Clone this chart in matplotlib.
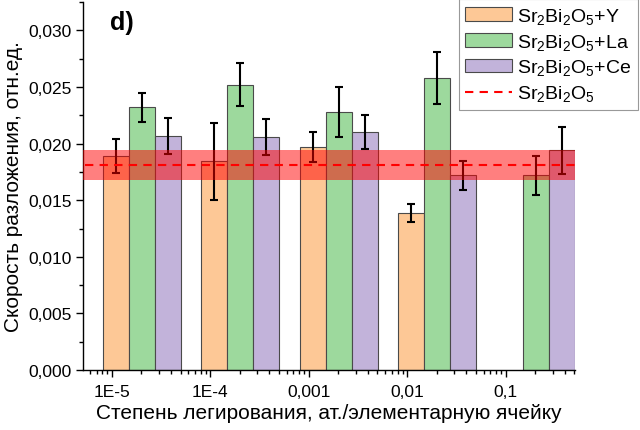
import numpy as np
import matplotlib
matplotlib.use("Agg")
import matplotlib.pyplot as plt
from matplotlib.ticker import FixedLocator, MultipleLocator, FuncFormatter

# Данные
doping = [1e-5, 1e-4, 1e-3, 1e-2, 1e-1]
doping_labels = ['1E-5', '1E-4', '0,001', '0,01', '0,1']

y_vals = [0.0189, 0.01845, 0.0197, 0.0139, np.nan]
y_err = [0.0015, 0.0034, 0.0013, 0.0008, np.nan]
la_vals = [0.0232, 0.0252, 0.0228, 0.0258, 0.0172]
la_err = [0.0013, 0.0019, 0.0022, 0.0023, 0.0017]
ce_vals = [0.0207, 0.0206, 0.0210, 0.0172, 0.0194]
ce_err = [0.0016, 0.0016, 0.0015, 0.0013, 0.0021]

base_val = 0.0181
base_err = 0.00135

plt.rcParams['font.family'] = ['Liberation Sans', 'DejaVu Sans']
plt.rcParams['mathtext.default'] = 'regular'

fig = plt.figure(figsize=(6.4, 4.31), dpi=100)
ax = fig.add_axes([0.130, 0.139, 0.768, 0.854])

x = np.log10(doping)
w = 0.264
off = -0.09
series = [
    (y_vals, y_err, '#FDC896', r'Sr$_2$Bi$_2$O$_5$+Y'),
    (la_vals, la_err, '#9DD99D', r'Sr$_2$Bi$_2$O$_5$+La'),
    (ce_vals, ce_err, '#C2B3DA', r'Sr$_2$Bi$_2$O$_5$+Ce'),
]
handles = []
for i, (vals, errs, col, lab) in enumerate(series):
    pos = x + off + w * (i + 0.5)
    b = ax.bar(pos, vals, width=w, color=col, edgecolor='#4a4a4a', linewidth=0.8,
               label=lab, zorder=1)
    ax.errorbar(pos, vals, yerr=errs, fmt='none', ecolor='black', elinewidth=1.5,
                capsize=3, capthick=1.5, zorder=2)
    handles.append(b)

x0 = -5.29
x1 = x[-1] + off + 3 * w
ax.axhspan(base_val - base_err, base_val + base_err, xmin=0, xmax=1,
           color='#ff0000', alpha=0.5, linewidth=0, zorder=3)
line, = ax.plot([x0 + 0.02, x1], [base_val, base_val], color='red', linestyle='--',
                dashes=(4, 3), linewidth=1.5, zorder=4, label=r'Sr$_2$Bi$_2$O$_5$')
handles.append(line)

ax.set_xlim(x0, x1)
ax.set_ylim(0, 0.0325)

ax.xaxis.set_major_locator(FixedLocator(x))
ax.set_xticklabels(doping_labels)
minor = [np.log10(k * 10.0 ** n) for n in range(-6, 0) for k in range(2, 10)]
minor = [m for m in minor if x0 <= m <= x1]
ax.xaxis.set_minor_locator(FixedLocator(minor))

ax.yaxis.set_major_locator(MultipleLocator(0.005))
ax.yaxis.set_minor_locator(MultipleLocator(0.0025))
ax.yaxis.set_major_formatter(FuncFormatter(lambda v, p: f'{v:.3f}'.replace('.', ',')))

for s in ['top', 'right']:
    ax.spines[s].set_visible(False)
for s in ['left', 'bottom']:
    ax.spines[s].set_linewidth(1.0)

ax.tick_params(axis='both', which='major', direction='out', length=5, width=1,
               labelsize=12.5, colors='black')
ax.tick_params(axis='both', which='minor', direction='out', length=3, width=1)
ax.tick_params(axis='x', which='major', pad=5)
ax.tick_params(axis='y', which='major', pad=3)

ax.set_xlabel('Степень легирования, ат./элементарную ячейку', fontsize=15, labelpad=3)
ax.set_ylabel('Скорость разложения, отн.ед.', fontsize=15, labelpad=4)

ax.text(0.055, 0.945, 'd)', transform=ax.transAxes, fontsize=18, fontweight='bold',
        ha='left', va='center')

leg = fig.legend(handles=handles, loc='upper right', bbox_to_anchor=(0.997, 1.0),
                 fontsize=14, frameon=True, fancybox=False, edgecolor='#999999',
                 framealpha=1, borderpad=0.35, labelspacing=0.3, handlelength=2.4,
                 handleheight=0.7, handletextpad=0.25, borderaxespad=0.0)
leg.get_frame().set_linewidth(0.8)

fig.savefig('out.png', dpi=100)
